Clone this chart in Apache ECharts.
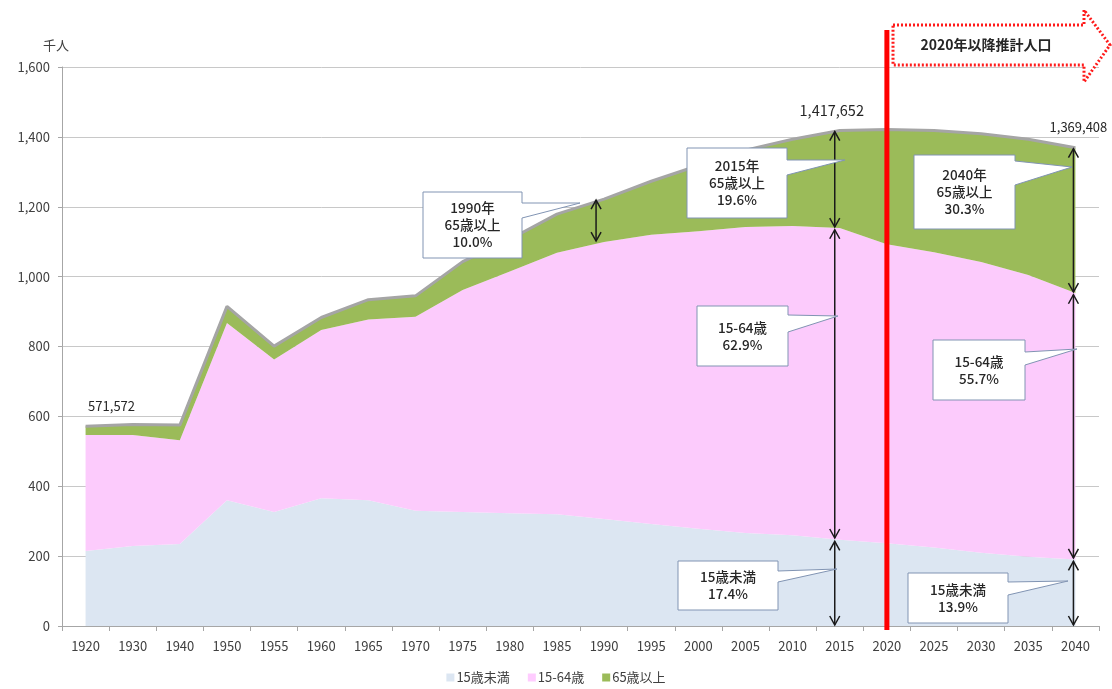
<!DOCTYPE html>
<html>
<head>
<meta charset="utf-8">
<script src="https://cdn.jsdelivr.net/npm/echarts@6/dist/echarts.min.js"></script>
<style>
html,body{margin:0;padding:0;background:#fff;}
#chart{width:1112px;height:689px;}
</style>
</head>
<body>
<div id="chart"></div>
<script>
const categories = ['1920','1930','1940','1950','1955','1960','1965','1970','1975','1980','1985','1990','1995','2000','2005','2010','2015','2020','2025','2030','2035','2040'];
const under15  = [215, 229, 235, 360, 326, 366, 360, 330, 326, 323, 320, 306, 292, 278, 266, 260, 247, 237, 225, 210, 198, 190];
const working  = [332, 318, 297, 507, 437, 481, 517, 555, 636, 692, 748, 793, 828, 852, 876, 885, 892, 856, 845, 832, 807, 763];
const elderly  = [ 25,  30,  43,  48,  38,  36,  57,  60,  81,  92, 111, 123, 153, 188, 220, 248, 279, 328, 348, 367, 388, 416];
const seriesNames = ['15歳未満', '15-64歳', '65歳以上'];
const yTicks = [0, 200, 400, 600, 800, 1000, 1200, 1400, 1600];
const totalLabels = [
  {cat: '1920', text: '571,572'},
  {cat: '2015', text: '1,417,652'},
  {cat: '2040', text: '1,369,408'}
];
const callouts = [
  {lines: ['1990年', '65歳以上', '10.0%']},
  {lines: ['2015年', '65歳以上', '19.6%']},
  {lines: ['2040年', '65歳以上', '30.3%']},
  {lines: ['15-64歳', '62.9%']},
  {lines: ['15-64歳', '55.7%']},
  {lines: ['15歳未満', '17.4%']},
  {lines: ['15歳未満', '13.9%']}
];
const projectionText = '2020年以降推計人口';
const unitName = '千人';

const FONT = '"Noto Sans CJK JP", "Noto Sans", sans-serif';
const chart = echarts.init(document.getElementById('chart'));

function fmt(v){ return v.toLocaleString('en-US'); }

chart.setOption({
  animation: false,
  textStyle: {fontFamily: FONT},
  grid: {left: 62, right: 13, top: 67, bottom: 63},
  legend: {
    bottom: 0, left: 'center', itemWidth: 8, itemHeight: 8, itemGap: 18,
    icon: 'rect',
    textStyle: {fontSize: 13, color: '#404040', fontFamily: FONT, padding: [0,0,0,-3]},
    data: seriesNames
  },
  xAxis: {
    type: 'category', data: categories, boundaryGap: true,
    axisLine: {lineStyle: {color: '#a6a6a6', width: 1}},
    axisTick: {show: true, length: 5, lineStyle: {color: '#a6a6a6'}},
    axisLabel: {fontSize: 13, color: '#404040', margin: 14, fontFamily: FONT}
  },
  yAxis: {
    type: 'value', min: 0, max: 1600, interval: 200,
    axisLine: {show: true, lineStyle: {color: '#a6a6a6'}},
    axisTick: {show: true, length: 4, lineStyle: {color: '#a6a6a6'}},
    splitLine: {lineStyle: {color: '#c8c8c8'}},
    axisLabel: {fontSize: 13, color: '#404040', margin: 12, fontFamily: FONT,
      formatter: v => yTicks.includes(v) ? fmt(v) : ''}
  },
  series: [
    {name: seriesNames[0], type: 'line', stack: 'pop', data: under15, showSymbol: false, symbol: 'none',
     itemStyle: {color: '#dce6f2'}, lineStyle: {width: 0}, areaStyle: {color: '#dce6f2', opacity: 1}, z: 2},
    {name: seriesNames[1], type: 'line', stack: 'pop', data: working, showSymbol: false, symbol: 'none',
     itemStyle: {color: '#ffccff'}, lineStyle: {width: 0}, areaStyle: {color: '#fccbfc', opacity: 1}, z: 2},
    {name: seriesNames[2], type: 'line', stack: 'pop', data: elderly, showSymbol: false, symbol: 'none',
     itemStyle: {color: '#9bbb59'}, lineStyle: {width: 3, color: '#a5a5a5'}, areaStyle: {color: '#9bbb59', opacity: 1}, z: 2}
  ]
});

function px(cat, v){ return chart.convertToPixel({xAxisIndex: 0, yAxisIndex: 0}, [cat, v]); }
function idx(cat){ return categories.indexOf(cat); }
function total(cat){ const i = idx(cat); return under15[i] + working[i] + elderly[i]; }
function pinkTop(cat){ const i = idx(cat); return under15[i] + working[i]; }

const g = [];

// double-headed arrows
function dArrow(cat, v1, v2, dx){
  const p1 = px(cat, v1), p2 = px(cat, v2);
  const x = p1[0] + (dx || 0);
  const yTop = Math.min(p1[1], p2[1]) + 1, yBot = Math.max(p1[1], p2[1]) - 1;
  g.push({type: 'line', shape: {x1: x, y1: yTop, x2: x, y2: yBot}, style: {stroke: '#1a1a1a', lineWidth: 1.5}, z: 50});
  g.push({type: 'polyline', shape: {points: [[x-5, yTop+9], [x, yTop], [x+5, yTop+9]]}, style: {stroke: '#1a1a1a', lineWidth: 1.5, fill: null}, z: 50});
  g.push({type: 'polyline', shape: {points: [[x-5, yBot-9], [x, yBot], [x+5, yBot-9]]}, style: {stroke: '#1a1a1a', lineWidth: 1.5, fill: null}, z: 50});
}
dArrow('1990', pinkTop('1990'), total('1990'), -8);
dArrow('2015', pinkTop('2015'), total('2015'), -5);
dArrow('2015', under15[idx('2015')] + 2, pinkTop('2015') - 2, -5);
dArrow('2015', 0, under15[idx('2015')] - 2, -5);
dArrow('2040', pinkTop('2040'), total('2040'), -2);
dArrow('2040', under15[idx('2040')] + 2, pinkTop('2040') - 2, -2);
dArrow('2040', 0, under15[idx('2040')] - 2, -2);

// red vertical line at 2020
const r0 = px('2020', 0);
g.push({type: 'line', shape: {x1: r0[0], y1: 30, x2: r0[0], y2: r0[1] + 4}, style: {stroke: '#ff0000', lineWidth: 5}, z: 60});

// projection dotted arrow box
g.push({type: 'polygon', shape: {points: [[893, 25], [1084, 25], [1084, 10], [1110, 45], [1084, 82], [1084, 65], [893, 65]]},
  style: {fill: '#ffffff', stroke: '#ff1a1a', lineWidth: 3, lineDash: [2, 2]}, z: 61});
g.push({type: 'text', x: 986, y: 45, style: {text: projectionText, fontSize: 14, fontFamily: FONT, fill: '#262626', align: 'center', verticalAlign: 'middle', fontWeight: 'bold'}, z: 62});

// callout boxes: box x1,y1,x2,y2, base1 y, base2 y, tip
const boxGeo = [
  {b: [423, 192, 522, 258], s: [203, 218], tip: [580, 203]},
  {b: [687, 148, 787, 218], s: [160, 175], tip: [845, 160]},
  {b: [914, 155, 1015, 229], s: [161, 185], tip: [1072, 167]},
  {b: [697, 306, 788, 366], s: [315, 332], tip: [838, 316]},
  {b: [933, 340, 1025, 400], s: [352, 365], tip: [1077, 349]},
  {b: [678, 561, 778, 610], s: [571, 582], tip: [837, 569]},
  {b: [908, 573, 1008, 623], s: [582, 595], tip: [1068, 581]}
];
callouts.forEach((c, i) => {
  const geo = boxGeo[i];
  const [x1, y1, x2, y2] = geo.b;
  g.push({type: 'polygon', shape: {points: [[x1, y1], [x2, y1], [x2, geo.s[0]], geo.tip, [x2, geo.s[1]], [x2, y2], [x1, y2]]},
    style: {fill: '#ffffff', stroke: '#8194b3', lineWidth: 1}, z: 70});
  const n = c.lines.length, lh = 17;
  const cy = (y1 + y2) / 2;
  c.lines.forEach((t, k) => {
    g.push({type: 'text', x: (x1 + x2) / 2, y: cy + (k - (n - 1) / 2) * lh,
      style: {text: t, fontSize: 13.5, fontFamily: FONT, fill: '#262626', align: 'center', verticalAlign: 'middle', fontWeight: 500}, z: 71});
  });
});

// total labels
const labelOffsets = {'1920': [26, -20, 13], '2015': [-8, -20, 14.5], '2040': [3, -21, 13]};
totalLabels.forEach(l => {
  const p = px(l.cat, total(l.cat));
  const o = labelOffsets[l.cat];
  g.push({type: 'text', x: p[0] + o[0], y: p[1] + o[1], style: {text: l.text, fontSize: o[2], fontFamily: FONT, fill: '#262626', align: 'center', verticalAlign: 'middle'}, z: 80});
});

// unit label
g.push({type: 'text', x: 56, y: 45, style: {text: unitName, fontSize: 13, fontFamily: FONT, fill: '#404040', align: 'center', verticalAlign: 'middle'}, z: 80});

chart.setOption({graphic: g});
</script>
</body>
</html>
